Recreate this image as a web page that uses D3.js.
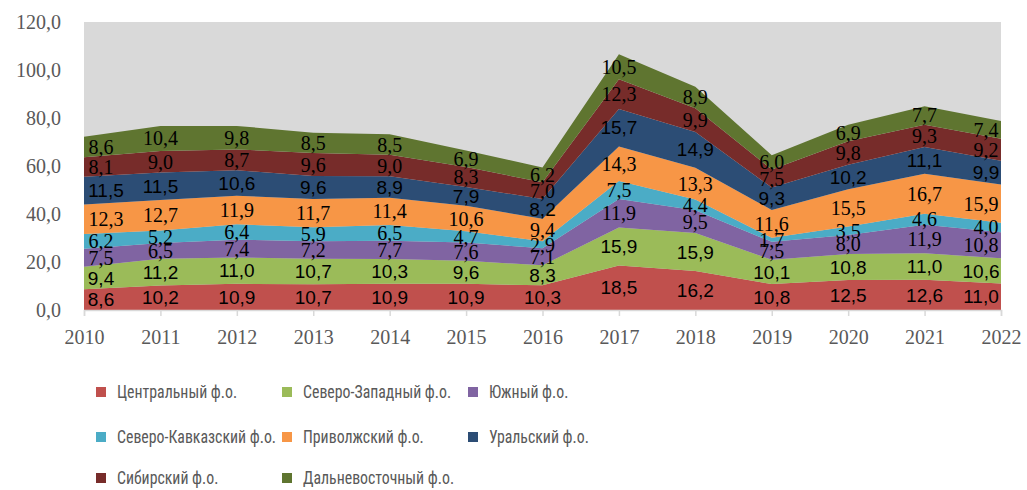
<!DOCTYPE html>
<html>
<head>
<meta charset="utf-8">
<script src="https://cdn.jsdelivr.net/npm/d3@7"></script>
<style>
  body { margin: 0; background: #fff; }
  svg { display: block; }
</style>
</head>
<body>
<svg id="chart" width="1027" height="490"></svg>
<script>
// years on the x axis
var years = [2010, 2011, 2012, 2013, 2014, 2015, 2016, 2017, 2018, 2019, 2020, 2021, 2022];

var regions = ["Центральный ф.о.", "Северо-Западный ф.о.", "Южный ф.о.",
  "Северо-Кавказский ф.о.", "Приволжский ф.о.", "Уральский ф.о.",
  "Сибирский ф.о.", "Дальневосточный ф.о."];

var central  = [8.6, 10.2, 10.9, 10.7, 10.9, 10.9, 10.3, 18.5, 16.2, 10.8, 12.5, 12.6, 11.0];
var northW   = [9.4, 11.2, 11.0, 10.7, 10.3, 9.6, 8.3, 15.9, 15.9, 10.1, 10.8, 11.0, 10.6];
var south    = [7.5, 6.5, 7.4, 7.2, 7.7, 7.6, 7.1, 11.9, 9.5, 7.5, 8.0, 11.9, 10.8];
var northC   = [6.2, 5.2, 6.4, 5.9, 6.5, 4.7, 2.9, 7.5, 4.4, 1.7, 3.5, 4.6, 4.0];
var volga    = [12.3, 12.7, 11.9, 11.7, 11.4, 10.6, 9.4, 14.3, 13.3, 11.6, 15.5, 16.7, 15.9];
var ural     = [11.5, 11.5, 10.6, 9.6, 8.9, 7.9, 8.2, 15.7, 14.9, 9.3, 10.2, 11.1, 9.9];
var siberia  = [8.1, 9.0, 8.7, 9.6, 9.0, 8.3, 7.0, 12.3, 9.9, 7.5, 9.8, 9.3, 9.2];
var farEast  = [8.6, 10.4, 9.8, 8.5, 8.5, 6.9, 6.2, 10.5, 8.9, 6.0, 6.9, 7.7, 7.4];

var yTicks = [0, 20, 40, 60, 80, 100, 120];

var seriesValues = [central, northW, south, northC, volga, ural, siberia, farEast];
var colors = ["#c0504d", "#9bbb59", "#8064a2", "#4bacc6", "#f79646", "#2c4d75", "#772c2a", "#5f7530"];
// some series had their labels in a sans font, the rest in a serif one
var sansLabels = [true, true, false, false, false, true, false, false];

// build rows for d3.stack
var rows = years.map(function(yr, i) {
  var r = { year: yr };
  regions.forEach(function(name, k) { r[name] = seriesValues[k][i]; });
  return r;
});

var svg = d3.select("#chart");
var plotL = 84, plotR = 1001, plotT = 22, plotB = 310;

var x = d3.scaleLinear().domain([2010, 2022]).range([plotL, plotR]);
var y = d3.scaleLinear().domain([0, 120]).range([plotB, plotT]);

var fmt = function(v) { return d3.format(".1f")(v).replace(".", ","); };

svg.append("rect")
  .attr("x", plotL).attr("y", plotT)
  .attr("width", plotR - plotL).attr("height", plotB - plotT)
  .attr("fill", "#d9d9d9");

var stacked = d3.stack().keys(regions)(rows);

var area = d3.area()
  .x(function(d) { return x(d.data.year); })
  .y0(function(d) { return y(d[0]); })
  .y1(function(d) { return y(d[1]); });

svg.append("g").selectAll("path")
  .data(stacked)
  .enter().append("path")
  .attr("d", area)
  .attr("fill", function(d, i) { return colors[i]; });

// x axis
var xAxis = d3.axisBottom(x)
  .tickValues(years)
  .tickFormat(d3.format("d"))
  .tickSize(6);
var gx = svg.append("g")
  .attr("transform", "translate(0," + plotB + ")")
  .call(xAxis);
gx.select(".domain").attr("stroke", "#d9d9d9").attr("stroke-width", 1.5);
gx.selectAll(".tick line").attr("stroke", "#d9d9d9").attr("stroke-width", 1.5);
gx.selectAll("text")
  .attr("fill", "#595959")
  .attr("font-family", "Liberation Serif, Times New Roman, serif")
  .attr("font-size", 20)
  .attr("y", 16)
  .attr("dy", "0.9em");

// y axis
var yAxis = d3.axisLeft(y).tickValues(yTicks).tickFormat(fmt).tickSize(0);
var gy = svg.append("g")
  .attr("transform", "translate(" + (plotL - 20) + ",0)")
  .call(yAxis);
gy.select(".domain").remove();
gy.selectAll("text")
  .attr("fill", "#595959")
  .attr("font-family", "Liberation Serif, Times New Roman, serif")
  .attr("font-size", 20);

// data labels in the middle of each band
var labelG = svg.append("g")
  .attr("fill", "#000")
  .attr("text-anchor", "middle");

stacked.forEach(function(layer, k) {
  layer.forEach(function(d) {
    var t = fmt(d[1] - d[0]);
    var w = t.length * 10;
    var cx = x(d.data.year);
    cx = Math.max(plotL + w / 2 + 2, Math.min(plotR - w / 2, cx));
    labelG.append("text")
      .attr("x", cx)
      .attr("y", y((d[0] + d[1]) / 2))
      .attr("dy", "0.35em")
      .attr("font-family", sansLabels[k] ? "Liberation Sans, Arial, sans-serif" : "Liberation Serif, Times New Roman, serif")
      .attr("font-size", sansLabels[k] ? 19 : 20)
      .text(t);
  });
});

// legend
var legendCols = [96, 282, 468];
var legendRows = [392, 437, 478];
var legend = svg.append("g")
  .attr("font-family", "Liberation Sans Narrow, Arial Narrow, Roboto Condensed, sans-serif")
  .attr("font-size", 18)
  .attr("fill", "#595959");

regions.forEach(function(name, i) {
  var lx = legendCols[i % 3], ly = legendRows[Math.floor(i / 3)];
  legend.append("rect")
    .attr("x", lx).attr("y", ly - 5)
    .attr("width", 10).attr("height", 10)
    .attr("fill", colors[i]);
  legend.append("text")
    .attr("transform", "translate(" + (lx + 21) + "," + ly + ") scale(0.88,1)")
    .attr("dy", "0.35em")
    .text(name);
});
</script>
</body>
</html>
